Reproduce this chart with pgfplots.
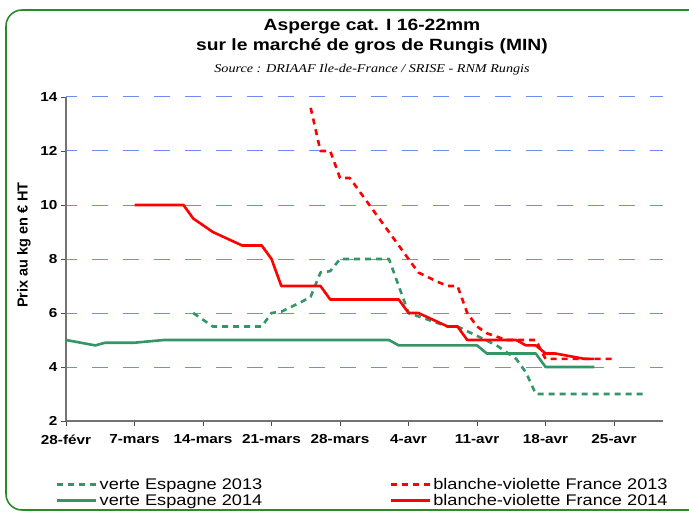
\documentclass[border=0pt]{standalone}
\usepackage{fontspec}
\setmainfont[FakeStretch=1.18]{Liberation Sans}
\newfontfamily\plainsans{Liberation Sans}
\newfontfamily\srcfont[FakeStretch=1.18]{Liberation Serif}
\usepackage{pgfplots}
\pgfplotsset{compat=1.18}
\definecolor{esgreen}{RGB}{51,150,100}
\definecolor{gridblue}{RGB}{110,140,245}
\definecolor{framegreen}{RGB}{40,140,40}
\begin{document}
\begin{tikzpicture}[x=1pt,y=1pt]
\useasboundingbox (0,0) rectangle (689,-513);
\clip (0,0) rectangle (689,-513);
\fill[white] (0,0) rectangle (689,-513);
\draw[framegreen, line width=1.6pt, rounded corners=16pt] (6,-10) rectangle (720,-510);
\node[anchor=base, font=\bfseries\fontsize{16.3}{16.3}\selectfont] at (372,-31) {Asperge cat. I 16-22mm};
\node[anchor=base, font=\bfseries\fontsize{16.3}{16.3}\selectfont] at (372,-51) {sur le marché de gros de Rungis (MIN)};
\node[anchor=base, font=\srcfont\itshape\fontsize{12}{12}\selectfont] at (372,-73) {Source : DRIAAF Ile-de-France / SRISE - RNM Rungis};
\node[rotate=90, font=\plainsans\bfseries\fontsize{14.5}{14.5}\selectfont] at (24,-245) {Prix au kg en € HT};
\begin{axis}[
  at={(66pt,-421pt)}, anchor=south west,
  scale only axis, width=597pt, height=324pt,
  xmin=0, xmax=61, ymin=2, ymax=14,
  xtick={0,7,14,21,28,35,42,49,56},
  xticklabels={28-févr,7-mars,14-mars,21-mars,28-mars,4-avr,11-avr,18-avr,25-avr},
  ytick={2,4,6,8,10,12,14},
  axis x line*=bottom, axis y line*=left,
  axis line style={black!55, line width=1.2pt},
  tick align=outside, major tick length=5pt,
  tick style={black!70, line width=0.8pt},
  ymajorgrids, grid style={gridblue, line width=1pt, dash pattern=on 16pt off 15pt, dash phase=5pt},
  ticklabel style={font=\bfseries\fontsize{13}{13}\selectfont},
  /pgf/number format/assume math mode=true,
  xticklabel style={yshift=-5pt},
  every axis plot/.append style={line width=2.6pt, line join=round},
  legend columns=2, legend cell align=left,
  legend image code/.code={\draw[#1, line width=2.6pt] (0pt,0pt) -- (39pt,0pt);},
  legend style={draw=none, fill=none, at={(-0.022,-0.168)}, anchor=north west,
    font=\fontsize{15.4}{15.4}\selectfont,
    nodes={inner ysep=0.5pt, inner xsep=2pt}, row sep=2.5pt},
]
\addplot[esgreen, dash pattern=on 6pt off 5pt] coordinates {
(13,6) (15,5.5) (20,5.5) (21,6) (22,6.05) (24,6.4) (25,6.6) (26,7.5) (27,7.55) (28,8) (33,8) (35,6)
(39,5.5) (40,5.5) (42,5.15) (44,4.8) (46,4.3) (47,3.8) (48,3) (59,3)};
\addlegendentry{\makebox[288pt][l]{verte Espagne 2013}}
\addplot[red, dash pattern=on 6pt off 5pt] coordinates {
(25,13.6) (26,12) (27,12) (28,11) (29,11) (35,8) (36,7.5) (38,7.15) (39,7) (40,7) (41,6) (42,5.5)
(43,5.25) (45,5) (48,5) (49,4.3) (56,4.3)};
\addlegendentry{blanche-violette France 2013}
\addplot[esgreen] coordinates {
(0,5) (3,4.8) (4,4.9) (7,4.9) (10,5) (33,5) (34,4.8) (42,4.8) (43,4.5) (48,4.5) (49,4) (54,4)};
\addlegendentry{verte Espagne 2014}
\addplot[red] coordinates {
(7,10) (12,10) (13,9.5) (15,9) (18,8.5) (20,8.5) (21,8) (22,7) (26,7) (27,6.5) (34,6.5) (35,6)
(36,6) (39,5.5) (40,5.5) (41,5) (46,5) (47,4.8) (48,4.8) (49,4.5) (50,4.5) (53,4.3) (54,4.3)};
\addlegendentry{blanche-violette France 2014}
\end{axis}
\end{tikzpicture}
\end{document}
